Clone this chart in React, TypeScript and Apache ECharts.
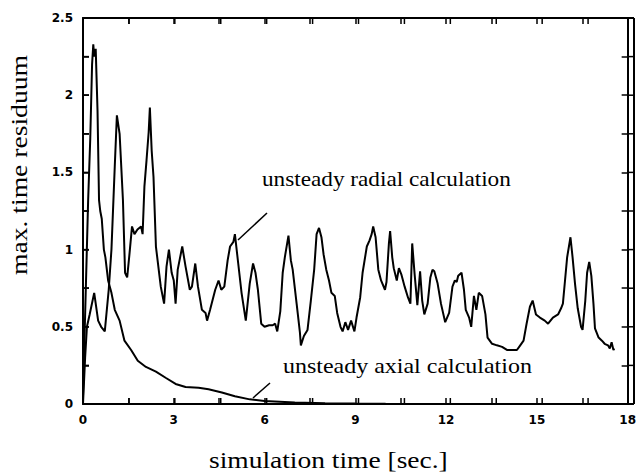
import React, { useEffect, useRef } from "react";
import * as echarts from "echarts";

const radialT = [0, 0.07, 0.13, 0.22, 0.37, 0.5, 0.6, 0.72, 0.85, 0.94, 1.05, 1.12, 1.21, 1.32, 1.39, 1.46, 1.54, 1.62, 1.7, 1.8, 1.92, 1.97, 2.03, 2.1, 2.17, 2.21, 2.27, 2.33, 2.41, 2.57, 2.68, 2.76, 2.84, 2.93, 3.0, 3.06, 3.13, 3.28, 3.39, 3.53, 3.6, 3.71, 3.8, 3.93, 4.05, 4.1, 4.2, 4.37, 4.48, 4.57, 4.67, 4.78, 4.86, 4.97, 5.02, 5.13, 5.24, 5.38, 5.51, 5.62, 5.7, 5.78, 5.89, 6.0, 6.15, 6.27, 6.35, 6.42, 6.52, 6.6, 6.67, 6.79, 6.87, 6.93, 7.06, 7.17, 7.2, 7.3, 7.42, 7.53, 7.64, 7.72, 7.8, 7.88, 7.95, 8.04, 8.13, 8.21, 8.32, 8.4, 8.51, 8.58, 8.67, 8.76, 8.86, 8.97, 9.04, 9.16, 9.24, 9.38, 9.47, 9.54, 9.59, 9.67, 9.76, 9.85, 9.98, 10.03, 10.11, 10.15, 10.22, 10.27, 10.37, 10.44, 10.52, 10.63, 10.74, 10.82, 10.88, 10.96, 11.05, 11.14, 11.21, 11.28, 11.39, 11.48, 11.55, 11.61, 11.72, 11.83, 11.97, 12.1, 12.21, 12.29, 12.35, 12.4, 12.51, 12.59, 12.65, 12.76, 12.83, 12.92, 13.0, 13.08, 13.19, 13.3, 13.37, 13.52, 13.68, 13.85, 14.01, 14.17, 14.34, 14.45, 14.56, 14.66, 14.77, 14.86, 14.97, 15.1, 15.26, 15.37, 15.53, 15.7, 15.8, 15.86, 15.93, 16.0, 16.11, 16.18, 16.26, 16.35, 16.46, 16.51, 16.6, 16.66, 16.73, 16.8, 16.87, 16.92, 17.04, 17.15, 17.24, 17.35, 17.41, 17.47, 17.53, 17.56];
const radialV = [0, 0.3, 0.5, 0.58, 0.72, 0.54, 0.5, 0.47, 0.74, 1.0, 1.54, 1.87, 1.75, 1.32, 0.85, 0.82, 0.98, 1.15, 1.1, 1.13, 1.15, 1.1, 1.41, 1.58, 1.76, 1.92, 1.64, 1.47, 1.02, 0.76, 0.65, 0.89, 1.0, 0.85, 0.8, 0.65, 0.87, 1.02, 0.89, 0.74, 0.76, 0.91, 0.76, 0.61, 0.59, 0.54, 0.61, 0.74, 0.8, 0.74, 0.76, 0.93, 1.02, 1.05, 1.1, 0.91, 0.72, 0.54, 0.78, 0.91, 0.85, 0.74, 0.52, 0.5, 0.51, 0.51, 0.52, 0.47, 0.6, 0.85, 0.95, 1.09, 0.93, 0.87, 0.65, 0.46, 0.38, 0.44, 0.48, 0.67, 0.87, 1.1, 1.14, 1.08, 0.97, 0.87, 0.8, 0.72, 0.7, 0.59, 0.5, 0.47, 0.53, 0.48, 0.54, 0.47, 0.56, 0.69, 0.85, 1.02, 1.06, 1.1, 1.15, 1.08, 0.87, 0.8, 0.74, 0.79, 1.04, 1.12, 0.95, 0.88, 0.8, 0.88, 0.84, 0.76, 0.69, 0.65, 1.04, 0.84, 0.64, 0.86, 0.67, 0.58, 0.65, 0.82, 0.87, 0.86, 0.78, 0.65, 0.53, 0.59, 0.76, 0.8, 0.79, 0.83, 0.85, 0.74, 0.61, 0.56, 0.5, 0.7, 0.61, 0.72, 0.7, 0.58, 0.43, 0.39, 0.38, 0.37, 0.35, 0.35, 0.35, 0.38, 0.41, 0.52, 0.63, 0.67, 0.58, 0.56, 0.54, 0.52, 0.56, 0.58, 0.62, 0.65, 0.8, 0.95, 1.08, 0.95, 0.78, 0.62, 0.5, 0.48, 0.67, 0.85, 0.92, 0.83, 0.65, 0.49, 0.43, 0.41, 0.39, 0.38, 0.36, 0.4, 0.35, 0.36];

const axialT = [0, 0.03, 0.1, 0.17, 0.24, 0.3, 0.34, 0.37, 0.42, 0.48, 0.53, 0.57, 0.62, 0.69, 0.74, 0.83, 0.94, 1.05, 1.21, 1.37, 1.59, 1.81, 2.08, 2.41, 2.73, 3.06, 3.39, 3.82, 4.15, 4.59, 5.02, 5.51, 6.0, 7.0, 8.0, 9.0, 10.0];
const axialV = [0.05, 0.28, 0.8, 1.32, 1.72, 2.2, 2.33, 2.25, 2.3, 1.9, 1.32, 1.25, 1.2, 1.0, 0.95, 0.8, 0.72, 0.61, 0.54, 0.41, 0.35, 0.28, 0.24, 0.21, 0.17, 0.13, 0.11, 0.105, 0.095, 0.075, 0.05, 0.03, 0.02, 0.01, 0.005, 0.003, 0.002];

const xTickLabels = ["0", "3", "6", "9", "12", "15", "18"];
const yTickLabels = ["0", "0.5", "1", "1.5", "2", "2.5"];
const xTickValues = [0, 1.5, 3, 4.5, 6, 7.5, 9, 10.5, 12, 13.5, 15, 16.5, 18];
const yTickValues = [0, 0.25, 0.5, 0.75, 1, 1.25, 1.5, 1.75, 2, 2.25, 2.5];

const xTitle = "simulation time [sec.]";
const yTitle = "max. time residuum";
const radialLabel = "unsteady radial calculation";
const axialLabel = "unsteady axial calculation";

const serif = "'Liberation Serif', 'Times New Roman', serif";
const tickFont = "'DejaVu Sans', sans-serif";

const W = 639;
const H = 474;
const G = { left: 83, right: 5, top: 18, bottom: 70 };

export default function App() {
  const ref = useRef<HTMLDivElement>(null);
  useEffect(() => {
    if (!ref.current) return;
    document.body.style.margin = "0";
    const chart = echarts.init(ref.current, null, { renderer: "svg" });
    const axisLine = () => ({ show: true, onZero: false, lineStyle: { color: "#000", width: 2 } });
    const axisTick = () => ({ show: true, inside: true, length: 6, lineStyle: { color: "#000", width: 1.5 } });
    const xLabelFmt = (v: number) => {
      const s = String(Math.round(v * 100) / 100);
      return xTickLabels.includes(s) ? s : "";
    };
    const yLabelFmt = (v: number) => {
      const s = String(Math.round(v * 100) / 100);
      return yTickLabels.includes(s) ? s : "";
    };
    const mkX = (position: string, labels: boolean) => ({
      type: "value", min: 0, max: 18, interval: 1.5, position,
      axisLine: axisLine(), axisTick: axisTick(), splitLine: { show: false },
      axisLabel: labels
        ? { show: true, formatter: xLabelFmt, color: "#000", fontFamily: tickFont, fontWeight: "bold", fontSize: 12, margin: 10, showMinLabel: true, showMaxLabel: true }
        : { show: false },
    });
    const mkY = (position: string, labels: boolean) => ({
      type: "value", min: 0, max: 2.5, interval: 0.25, position,
      axisLine: axisLine(), axisTick: axisTick(), splitLine: { show: false },
      axisLabel: labels
        ? { show: true, formatter: yLabelFmt, color: "#000", fontFamily: tickFont, fontWeight: "bold", fontSize: 12, margin: 10, showMinLabel: true, showMaxLabel: true }
        : { show: false },
    });

    // plot frame with mirrored inward ticks (same scale as the grid)
    const xl = G.left, xr = W - G.right, yt = G.top, yb = H - G.bottom;
    const sx = (t: number) => xl + (t / 18) * (xr - xl);
    const sy = (v: number) => yb - (v / 2.5) * (yb - yt);
    const frame: any[] = [
      { type: "line", shape: { x1: xl, y1: yt, x2: xr, y2: yt }, style: { stroke: "#000", lineWidth: 2 } },
      { type: "line", shape: { x1: xl, y1: yb, x2: xr, y2: yb }, style: { stroke: "#000", lineWidth: 2 } },
      { type: "line", shape: { x1: xl, y1: yt, x2: xl, y2: yb }, style: { stroke: "#000", lineWidth: 2 } },
      { type: "line", shape: { x1: xr, y1: yt, x2: xr, y2: yb }, style: { stroke: "#000", lineWidth: 2 } },
    ];
    xTickValues.forEach((t) => {
      const x = sx(t);
      frame.push({ type: "line", shape: { x1: x, y1: yb, x2: x, y2: yb - 6 }, style: { stroke: "#000", lineWidth: 1.5 } });
      frame.push({ type: "line", shape: { x1: x, y1: yt, x2: x, y2: yt + 6 }, style: { stroke: "#000", lineWidth: 1.5 } });
    });
    yTickValues.forEach((v) => {
      const y = sy(v);
      frame.push({ type: "line", shape: { x1: xl, y1: y, x2: xl + 6, y2: y }, style: { stroke: "#000", lineWidth: 1.5 } });
      frame.push({ type: "line", shape: { x1: xr, y1: y, x2: xr - 6, y2: y }, style: { stroke: "#000", lineWidth: 1.5 } });
    });

    chart.setOption({
      animation: false,
      backgroundColor: "#fff",
      grid: { left: G.left, right: G.right, top: G.top, bottom: G.bottom },
      xAxis: [mkX("bottom", true), mkX("top", false)],
      yAxis: [mkY("left", true), mkY("right", false)],
      series: [
        {
          name: "radial",
          type: "line",
          xAxisIndex: 0,
          yAxisIndex: 0,
          showSymbol: false,
          symbol: "none",
          lineStyle: { color: "#000", width: 2 },
          data: radialT.map((t, i) => [t, radialV[i]]),
        },
        {
          name: "axial",
          type: "line",
          xAxisIndex: 0,
          yAxisIndex: 0,
          showSymbol: false,
          symbol: "none",
          lineStyle: { color: "#000", width: 2 },
          data: axialT.map((t, i) => [t, axialV[i]]),
        },
      ],
      graphic: [
        ...frame,
        {
          type: "text", x: 262, y: 179, scaleX: 1.056,
          style: { text: radialLabel, font: `22px ${serif}`, fill: "#000", textAlign: "left", textVerticalAlign: "middle", verticalAlign: "middle" },
        },
        {
          type: "text", x: 283, y: 365, scaleX: 1.09,
          style: { text: axialLabel, font: `22px ${serif}`, fill: "#000", textAlign: "left", textVerticalAlign: "middle", verticalAlign: "middle" },
        },
        { type: "line", shape: { x1: 267, y1: 213, x2: 238, y2: 240 }, style: { stroke: "#000", lineWidth: 1.5 } },
        { type: "line", shape: { x1: 270, y1: 383, x2: 253, y2: 398 }, style: { stroke: "#000", lineWidth: 1.5 } },
        {
          type: "text", x: 209, y: 460, scaleX: 1.145,
          style: { text: xTitle, font: `24px ${serif}`, fill: "#000", textAlign: "left", textVerticalAlign: "middle", verticalAlign: "middle" },
        },
        {
          type: "text", x: 19, y: 165, rotation: Math.PI / 2, scaleX: 1.15,
          style: { text: yTitle, font: `24px ${serif}`, fill: "#000", textAlign: "center", textVerticalAlign: "middle", verticalAlign: "middle" },
        },
      ],
    });
    return () => chart.dispose();
  }, []);
  return <div ref={ref} style={{ width: W, height: H, background: "#fff" }} />;
}
